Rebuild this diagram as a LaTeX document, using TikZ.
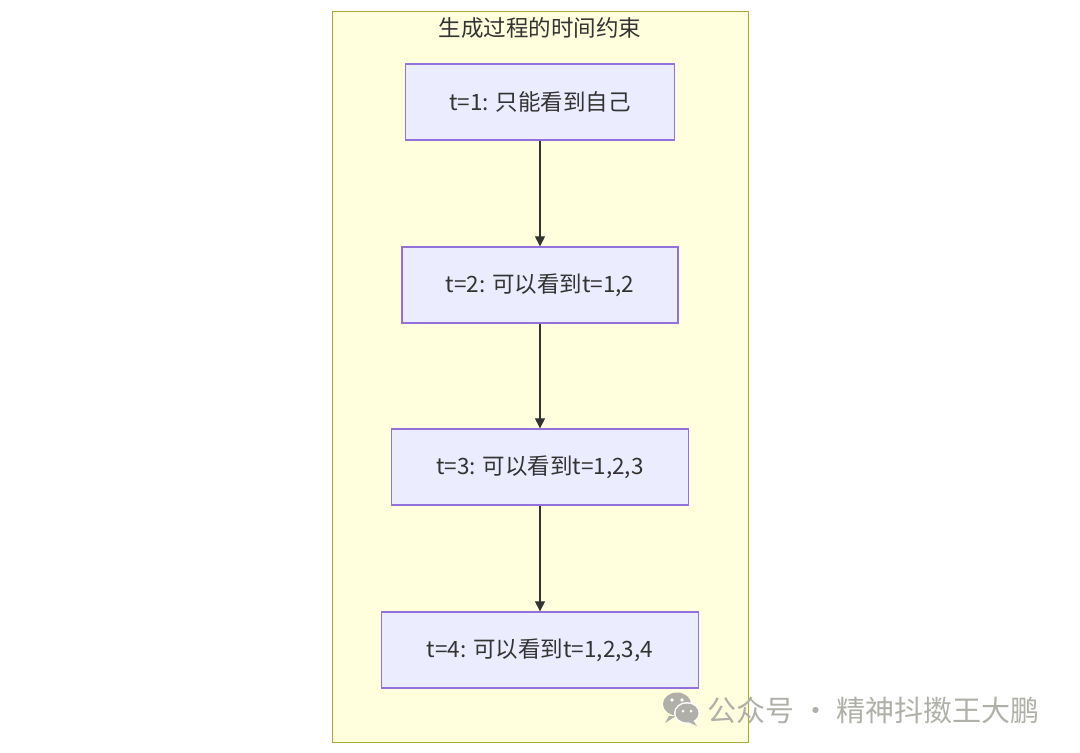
\documentclass[tikz,border=0pt]{standalone}
\usepackage{fontspec}
\setmainfont{Noto Sans CJK SC}
\usetikzlibrary{arrows.meta}

\definecolor{clusterfill}{HTML}{FFFFDE}
\definecolor{clusterline}{HTML}{AAAA33}
\definecolor{stepfill}{HTML}{ECECFF}
\definecolor{stepline}{HTML}{9370DB}
\definecolor{textgray}{HTML}{333333}
\definecolor{markgray}{HTML}{B0B0A8}

\tikzset{
	stepbox/.style={draw=stepline, fill=stepfill, line width=1.3pt, minimum height=76pt,
		inner sep=0pt, text=textgray, font=\fontsize{22.5}{24}\selectfont},
	flow/.style={draw=textgray, line width=1.1pt, -{Triangle[length=10pt,width=10pt]}}
}

\begin{document}
\begin{tikzpicture}[x=1pt,y=-1pt]
	\useasboundingbox (0,0) rectangle (1080,753);
	
	\draw[clusterline, fill=clusterfill, line width=1pt] (332,11) rectangle (748,742);
	\node[text=textgray, font=\fontsize{22.5}{24}\selectfont] (title) at (540,28) {生成过程的时间约束};
	
	\node[stepbox, minimum width=269pt] (t1) at (540,102) {t=1: 只能看到自己};
	\node[stepbox, minimum width=276pt] (t2) at (540,285) {t=2: 可以看到t=1,2};
	\node[stepbox, minimum width=297pt] (t3) at (540,467) {t=3: 可以看到t=1,2,3};
	\node[stepbox, minimum width=317pt] (t4) at (540,650) {t=4: 可以看到t=1,2,3,4};
	
	\foreach \a/\b in {t1/t2,t2/t3,t3/t4}
		\draw[flow] (\a) -- (\b);
	
	% watermark
	\fill[markgray] (677,704) ellipse (14pt and 11.5pt);
	\fill[markgray] (669,716) -- (665,723) -- (676,716) -- cycle;
	\fill[white] (687,713) ellipse (13pt and 11pt);
	\fill[markgray] (687,713) ellipse (11.5pt and 9.5pt);
	\fill[markgray] (692,719) -- (697,726) -- (686,721) -- cycle;
	\fill[white] (672,700) circle (1.8pt) (682,700) circle (1.8pt);
	\fill[white] (683,711) circle (1.5pt) (691,711) circle (1.5pt);
	\node[anchor=west, text=markgray, font=\fontsize{29}{31}\selectfont] (mark) at (704,710) {公众号 · 精神抖擞王大鹏};
\end{tikzpicture}
\end{document}
